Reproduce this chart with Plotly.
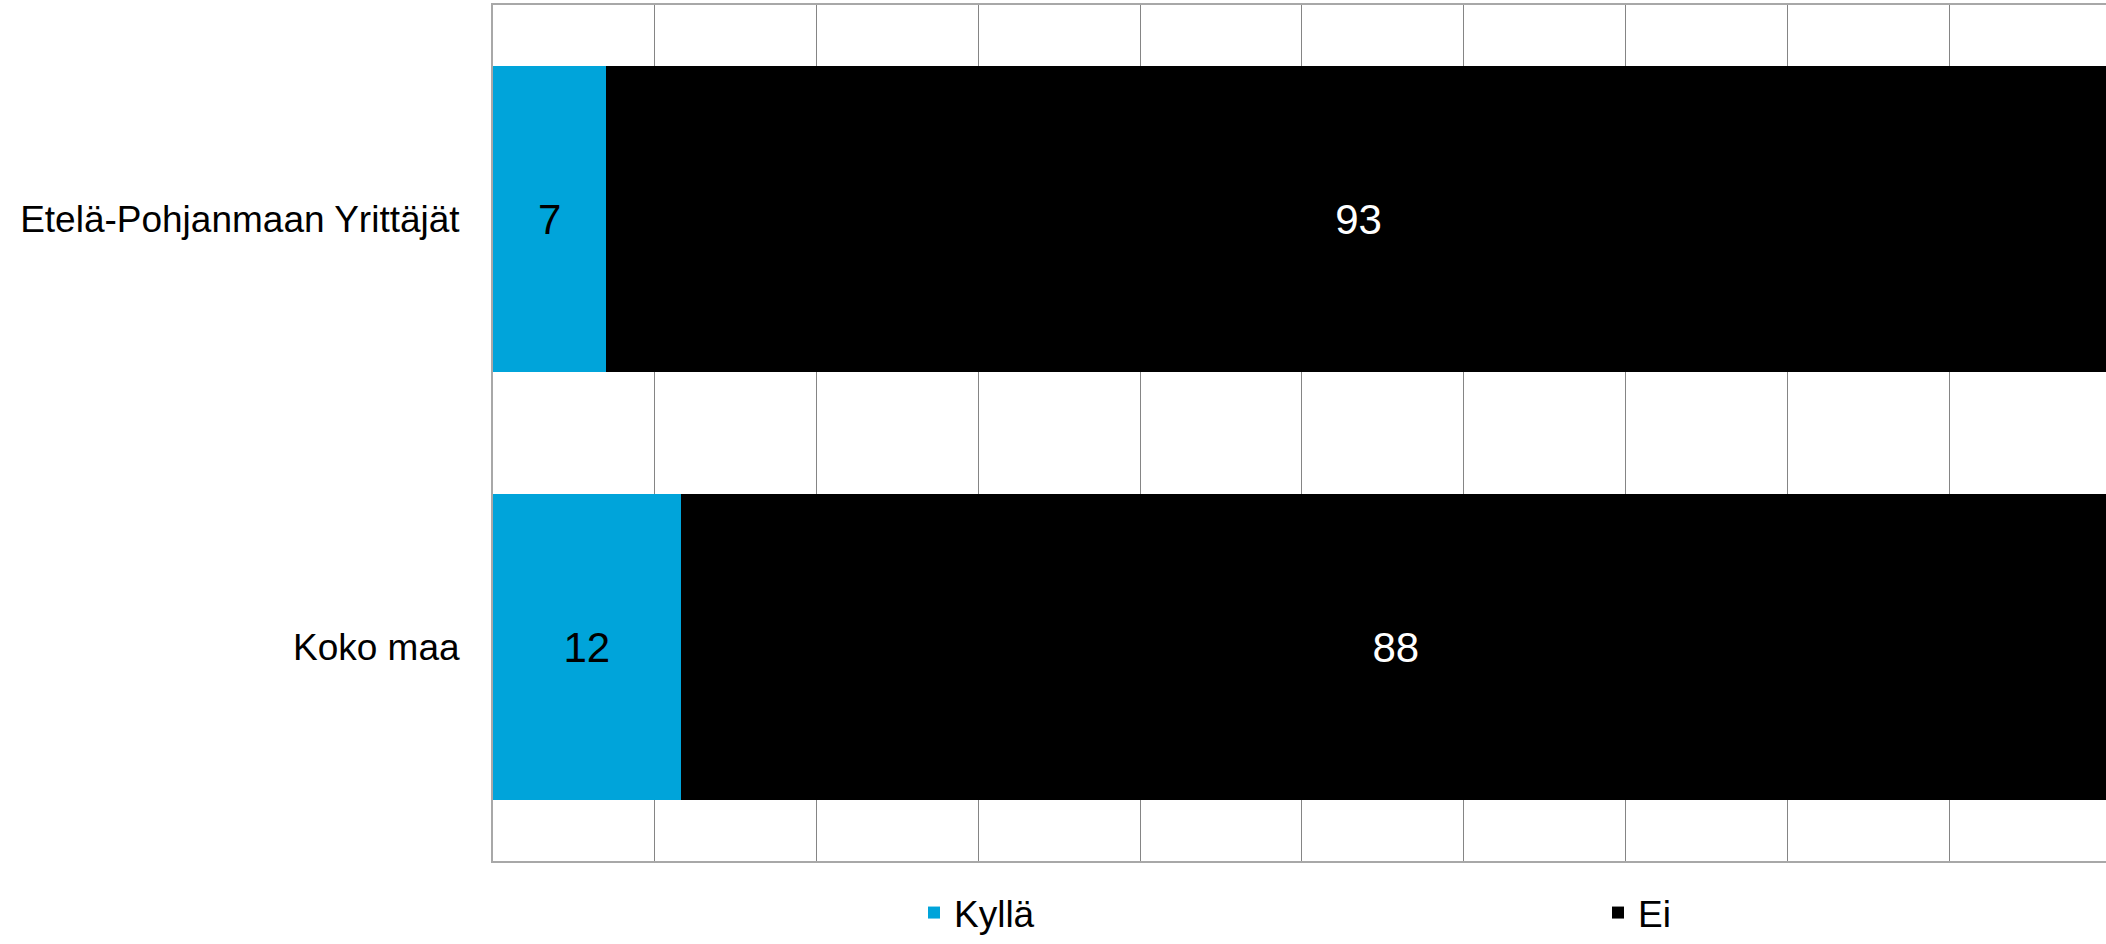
import plotly.graph_objects as go

categories = ["Etelä-Pohjanmaan Yrittäjät", "Koko maa"]
kylla = [7.0, 11.6]
ei = [93.0, 88.4]
series_names = ["Kyllä", "Ei"]

FONT = "Liberation Sans, Arial, sans-serif"
W, H = 2106, 944
ML, MT = 493, 5
PLOT_BOTTOM = 861  # px from top

fig = go.Figure()
fig.add_trace(go.Bar(
    name=series_names[0], y=categories, x=kylla, orientation="h",
    marker=dict(color="#00A4DA", line=dict(width=0)),
    texttemplate="%{x:.0f}", textposition="inside", insidetextanchor="middle",
    textangle=0, textfont=dict(size=42, color="#000000", family=FONT),
    legend="legend", hoverinfo="skip",
))
fig.add_trace(go.Bar(
    name=series_names[1], y=categories, x=ei, orientation="h",
    marker=dict(color="#000000", line=dict(width=0)),
    texttemplate="%{x:.0f}", textposition="inside", insidetextanchor="middle",
    textangle=0, textfont=dict(size=42, color="#ffffff", family=FONT),
    legend="legend2", hoverinfo="skip",
))

paper_h = H - MT
paper_w = W - ML
legend_common = dict(
    orientation="h", yanchor="bottom", y=0, xanchor="left",
    font=dict(size=37, family=FONT, color="#000000"),
    bgcolor="rgba(0,0,0,0)", borderwidth=0,
)

fig.update_layout(
    barmode="stack",
    bargap=0.285,
    width=W, height=H,
    margin=dict(l=ML, r=0, t=MT, b=0),
    paper_bgcolor="white", plot_bgcolor="white",
    font=dict(family=FONT, size=37, color="#000000"),
    showlegend=True,
    legend=dict(x=(914 - ML) / paper_w, **legend_common),
    legend2=dict(x=(1598 - ML) / paper_w, **legend_common),
    xaxis=dict(
        range=[0, 99.7], dtick=10, tick0=0,
        showgrid=True, gridcolor="#858585", gridwidth=1,
        showline=True, linecolor="#a8a8a8", linewidth=2, mirror=True,
        showticklabels=False, ticks="", zeroline=False, fixedrange=True,
    ),
    yaxis=dict(
        domain=[(H - PLOT_BOTTOM) / paper_h, 1],
        autorange="reversed",
        showgrid=False, showline=True, linecolor="#a8a8a8", linewidth=2,
        ticks="", ticklabelstandoff=24,
        tickfont=dict(size=37, family=FONT, color="#000000"),
        zeroline=False, fixedrange=True,
    ),
)

fig.write_html(
    "out.html",
    config={"displayModeBar": False},
    post_script="document.body.style.margin='0';document.body.style.overflow='hidden';",
)
